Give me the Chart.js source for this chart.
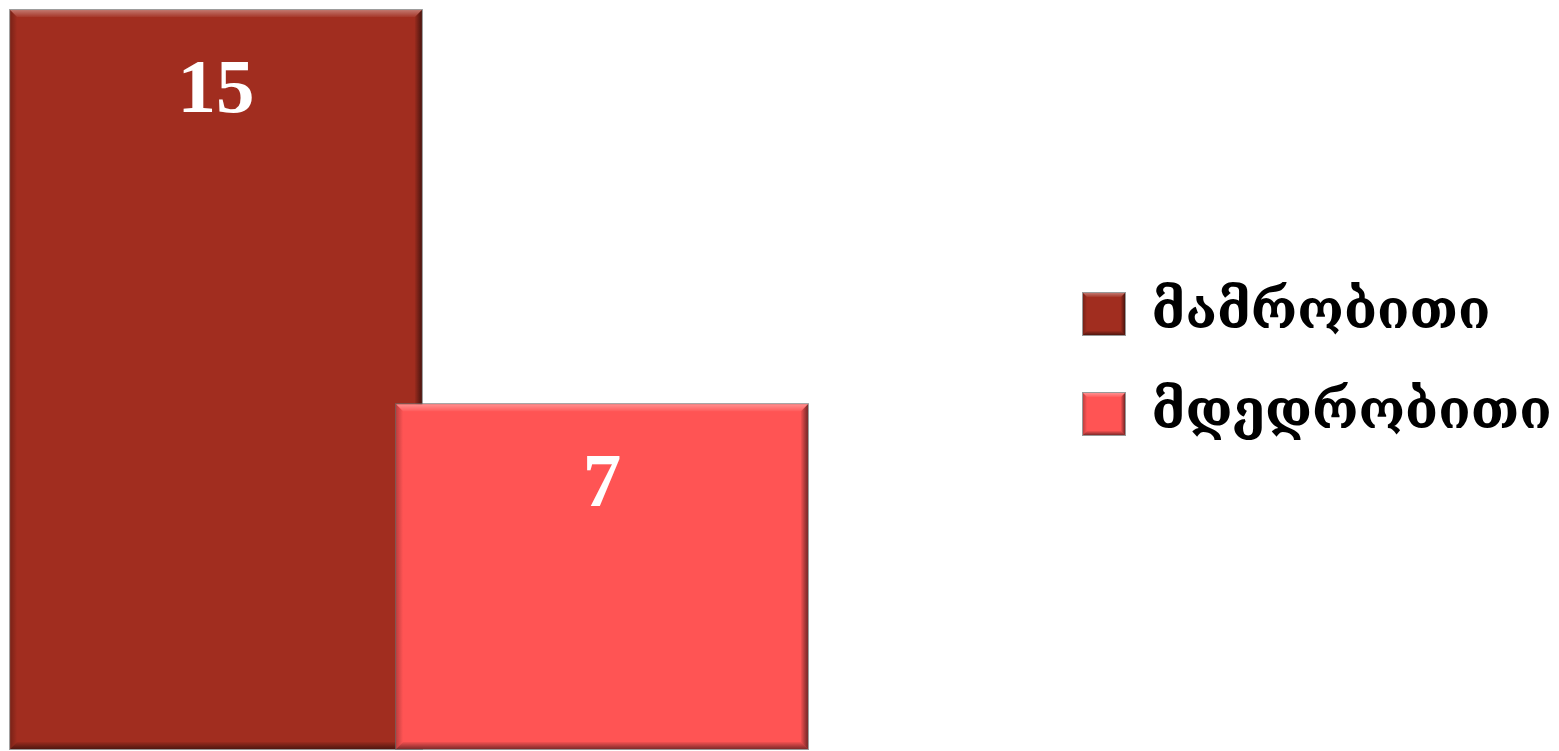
<!DOCTYPE html>
<html>
<head>
<meta charset="utf-8">
<script src="https://cdn.jsdelivr.net/npm/chart.js@4.4.0/dist/chart.umd.min.js"></script>
<style>
    html, body { margin: 0; padding: 0; background: #fff; overflow: hidden; width: 1559px; height: 751px; }
    #wrap { position: absolute; left: 0; top: -40px; }
</style>
</head>
<body>
<div id="wrap"><canvas id="myChart" width="1700" height="800"></canvas></div>
<script>
var categories = [""];
var seriesNames = ["მამრობითი", "მდედრობითი"];
var maleValues = [15];
var femaleValues = [7];
var seriesColors = ["#a12d1f", "#ff5454"];

(() => {
    var legendFont = { family: "'DejaVu Serif'", size: 53, weight: "bold" },
        legendPad = 47,
        boxSize = 42,
        gapWidth = 241,
        canvas = document.getElementById("myChart");

    //measure the longest legend text so the legend ends near the right edge
    var mctx = canvas.getContext("2d");
    mctx.font = "bold 53px 'DejaVu Serif'";
    var textW = Math.max.apply(null, seriesNames.map(s => mctx.measureText(s).width));
    var padRight = canvas.width - 23 - 772 - gapWidth - (legendPad + boxSize + legendFont.size / 2 + 10) - textW;

    //draw a bevelled edge over a rectangle
    function bevel(ctx, l, t, r, b, d) {
        var g;
        ctx.save();
        g = ctx.createLinearGradient(0, t, 0, t + d);
        g.addColorStop(0, "rgba(255,255,255,0.35)");
        g.addColorStop(1, "rgba(255,255,255,0.05)");
        ctx.fillStyle = g;
        ctx.beginPath();
        ctx.moveTo(l, t); ctx.lineTo(r, t); ctx.lineTo(r - d, t + d); ctx.lineTo(l + d, t + d);
        ctx.closePath(); ctx.fill();

        g = ctx.createLinearGradient(l, 0, l + d, 0);
        g.addColorStop(0, "rgba(0,0,0,0.25)");
        g.addColorStop(1, "rgba(0,0,0,0)");
        ctx.fillStyle = g;
        ctx.beginPath();
        ctx.moveTo(l, t); ctx.lineTo(l + d, t + d); ctx.lineTo(l + d, b - d); ctx.lineTo(l, b);
        ctx.closePath(); ctx.fill();

        g = ctx.createLinearGradient(r - d, 0, r, 0);
        g.addColorStop(0, "rgba(0,0,0,0.05)");
        g.addColorStop(1, "rgba(0,0,0,0.55)");
        ctx.fillStyle = g;
        ctx.beginPath();
        ctx.moveTo(r, t); ctx.lineTo(r, b); ctx.lineTo(r - d, b - d); ctx.lineTo(r - d, t + d);
        ctx.closePath(); ctx.fill();

        g = ctx.createLinearGradient(0, b - d, 0, b);
        g.addColorStop(0, "rgba(0,0,0,0.05)");
        g.addColorStop(1, "rgba(0,0,0,0.5)");
        ctx.fillStyle = g;
        ctx.beginPath();
        ctx.moveTo(l, b); ctx.lineTo(r, b); ctx.lineTo(r - d, b - d); ctx.lineTo(l + d, b - d);
        ctx.closePath(); ctx.fill();

        ctx.strokeStyle = "rgba(110,110,110,0.7)";
        ctx.lineWidth = 1;
        ctx.strokeRect(l - 0.5, t - 0.5, r - l + 1, b - t + 1);
        ctx.restore();
    }

    var barEffects = {
        id: "barEffects",
        afterDatasetsDraw(chart) {
            var ctx = chart.ctx;
            //second series sits over the first one
            chart.data.datasets.forEach((ds, i) => {
                var meta = chart.getDatasetMeta(i);
                meta.data.forEach((el, j) => {
                    var p = el.getProps(["x", "y", "base", "width"], true);
                    if (i > 0) el.draw(ctx);
                    bevel(ctx, p.x - p.width / 2, p.y, p.x + p.width / 2, p.base, 7);
                });
            });
            //value labels
            ctx.save();
            ctx.fillStyle = "#fff";
            ctx.font = "bold 77px 'Liberation Serif'";
            ctx.textAlign = "center";
            ctx.textBaseline = "alphabetic";
            chart.data.datasets.forEach((ds, i) => {
                chart.getDatasetMeta(i).data.forEach((el, j) => {
                    var p = el.getProps(["x", "y"], true);
                    ctx.fillText(String(ds.data[j]), p.x, p.y + 102);
                });
            });
            ctx.restore();
        },
        afterDraw(chart) {
            var lg = chart.legend;
            if (!lg || !lg.legendHitBoxes) return;
            lg.legendHitBoxes.forEach(hb => {
                var top = hb.top + Math.max((legendFont.size - boxSize) / 2, 0);
                bevel(chart.ctx, hb.left, top, hb.left + boxSize, top + boxSize, 4);
            });
        }
    };

    new Chart(canvas, {
        type: "bar",
        data: {
            labels: categories,
            datasets: [
                { label: seriesNames[0], data: maleValues, backgroundColor: seriesColors[0], borderWidth: 0, clip: false },
                { label: seriesNames[1], data: femaleValues, backgroundColor: seriesColors[1], borderWidth: 0, clip: false }
            ]
        },
        options: {
            responsive: false,
            animation: false,
            devicePixelRatio: 1,
            layout: { padding: { left: 23, top: 19, bottom: 11, right: padRight } },
            datasets: { bar: { categoryPercentage: 1, barPercentage: 1.067 } },
            scales: {
                x: { display: false },
                y: {
                    position: "right",
                    min: 0,
                    max: 15.63,
                    ticks: { display: false },
                    grid: { display: false },
                    border: { display: false },
                    afterFit: s => { s.width = gapWidth; }
                }
            },
            plugins: {
                tooltip: { enabled: false },
                legend: {
                    position: "right",
                    maxWidth: 800,
                    labels: {
                        boxWidth: boxSize,
                        boxHeight: boxSize,
                        padding: legendPad,
                        color: "#000",
                        font: legendFont
                    }
                }
            }
        },
        plugins: [barEffects]
    });
})();
</script>
</body>
</html>
